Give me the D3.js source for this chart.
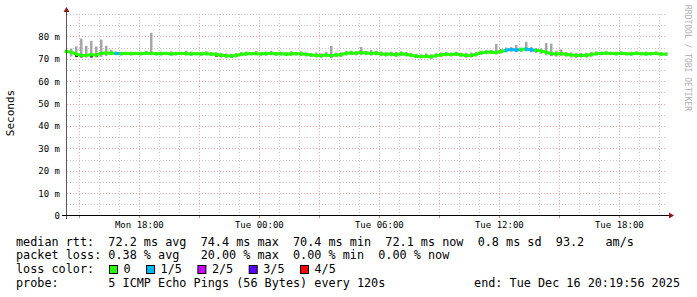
<!DOCTYPE html>
<html>
<head>
<meta charset="utf-8">
<script src="https://cdn.jsdelivr.net/npm/d3@7"></script>
<style>
  body { margin: 0; background: #fff; }
  svg { display: block; }
</style>
</head>
<body>
<div id="chart"></div>
<script>
// samples every 15 minutes, from Mon 14:19:56 to Tue 20:19:56
const startTime = new Date(2025, 11, 15, 14, 19, 56);
const endTime = new Date(2025, 11, 16, 20, 19, 56);
const stepMinutes = 15;

// median rtt, ms
const medianMs = [
  73.3, 73.0, 72.2, 71.6, 71.5, 71.8, 71.6, 72.4, 72.6, 72.5,
  72.4, 72.3, 72.4, 72.3, 72.4, 72.3, 72.5, 72.4, 72.3, 72.3,
  72.4, 72.2, 72.3, 72.4, 72.3, 72.2, 72.3, 72.2, 72.3, 72.1,
  72.0, 71.6, 71.4, 71.2, 71.5, 72.0, 72.2, 72.3, 72.3, 72.2,
  72.3, 72.4, 72.2, 72.3, 72.1, 72.2, 72.3, 72.2, 72.0, 71.7,
  71.5, 71.4, 71.6, 71.4, 71.7, 71.8, 72.4, 72.6, 72.5, 72.7,
  72.6, 72.4, 72.5, 72.2, 72.0, 72.1, 71.8, 72.2, 72.0, 71.6,
  71.2, 71.0, 71.1, 70.9, 71.4, 71.8, 72.0, 71.9, 72.1, 71.8,
  71.5, 71.6, 71.9, 72.7, 72.9, 73.0, 72.8, 73.3, 73.8, 74.2,
  73.9, 74.1, 74.4, 74.0, 73.8, 73.5, 72.9, 72.4, 72.1, 72.3,
  72.0, 71.7, 71.5, 71.6, 71.5, 71.9, 72.3, 72.4, 72.5, 72.4,
  72.3, 72.4, 72.3, 72.2, 72.4, 72.3, 72.2, 72.3, 72.4, 72.1,
  72.1
];

// smoke: highest and lowest ping per sample, ms
const smokeHi = [
  74.0, 74.5, 75.6, 79.0, 75.8, 78.0, 75.5, 78.6, 75.8, 74.0,
  73.2, 73.1, 73.0, 73.2, 73.0, 73.1, 73.4, 81.6, 73.1, 73.2,
  73.0, 73.3, 73.1, 73.0, 73.6, 73.2, 73.0, 73.1, 73.4, 72.9,
  72.8, 72.6, 72.4, 72.3, 72.5, 73.0, 73.2, 73.0, 73.4, 73.1,
  73.2, 73.5, 73.0, 73.2, 73.0, 73.4, 73.1, 73.3, 72.9, 72.6,
  72.8, 72.4, 73.0, 75.7, 72.8, 72.9, 73.4, 73.6, 73.4, 75.3,
  73.5, 74.0, 73.6, 73.3, 73.0, 73.2, 73.1, 73.3, 73.0, 72.6,
  72.2, 72.0, 72.4, 72.0, 72.5, 72.8, 73.0, 72.8, 73.1, 72.7,
  72.6, 72.8, 73.0, 73.6, 73.8, 74.0, 76.6, 74.5, 75.0, 75.2,
  76.2, 75.0, 77.6, 75.3, 74.8, 74.6, 77.0, 76.8, 73.5, 74.2,
  73.0, 72.8, 72.6, 72.5, 72.7, 73.0, 73.3, 73.2, 73.4, 73.1,
  73.2, 73.3, 73.0, 73.1, 73.3, 73.0, 73.2, 73.0, 73.3, 72.9,
  72.8
];
const smokeLo = [
  72.6, 71.0, 70.6, 70.4, 70.5, 70.5, 70.6, 70.9, 71.2, 71.6,
  71.6, 71.5, 71.6, 71.5, 71.6, 71.5, 71.7, 71.6, 71.5, 71.5,
  71.6, 71.4, 71.5, 71.6, 71.5, 71.4, 71.5, 71.4, 71.5, 71.2,
  70.9, 70.6, 70.5, 70.4, 70.6, 71.1, 71.4, 71.5, 71.5, 71.4,
  71.4, 71.5, 71.3, 71.4, 71.2, 71.3, 71.4, 71.3, 71.0, 70.8,
  70.6, 70.5, 70.7, 70.4, 70.7, 70.9, 71.4, 71.6, 71.5, 71.6,
  71.6, 71.4, 71.5, 71.2, 71.0, 71.1, 70.8, 71.2, 71.0, 70.7,
  70.4, 70.2, 70.3, 70.1, 70.5, 70.9, 71.1, 71.0, 71.2, 70.9,
  70.5, 70.6, 71.0, 71.8, 72.0, 72.1, 71.9, 72.3, 72.8, 73.1,
  72.9, 73.0, 73.3, 72.9, 72.6, 72.2, 71.6, 71.2, 71.0, 71.3,
  70.9, 70.6, 70.4, 70.5, 70.5, 70.9, 71.4, 71.6, 71.7, 71.6,
  71.5, 71.6, 71.5, 71.4, 71.6, 71.5, 71.4, 71.5, 71.6, 71.3,
  71.3
];

// dense (dark) smoke below the median: [sample, low ms]
const darkSmoke = [
  [2, 70.8], [3, 70.7], [5, 70.6], [6, 70.8], [30, 71.0], [31, 70.8],
  [32, 70.7], [33, 70.6], [50, 70.9], [51, 70.8], [53, 70.7], [70, 70.6],
  [71, 70.4], [73, 70.3], [80, 70.8], [81, 70.9], [97, 71.6],
  [102, 70.8], [103, 70.9], [104, 70.8]
];

// lost pings out of 5 per sample
const lossCount = [
  0, 0, 0, 0, 0, 0, 0, 0, 0, 0,
  1, 0, 0, 0, 0, 0, 0, 0, 0, 0,
  0, 0, 0, 0, 0, 0, 0, 0, 0, 0,
  0, 0, 0, 0, 0, 0, 0, 0, 0, 0,
  0, 0, 0, 0, 0, 0, 0, 0, 0, 0,
  0, 0, 0, 0, 0, 0, 0, 0, 0, 0,
  0, 0, 0, 0, 0, 0, 0, 0, 0, 0,
  0, 0, 0, 0, 0, 0, 0, 0, 0, 0,
  0, 0, 0, 0, 0, 0, 0, 0, 1, 1,
  1, 0, 1, 1, 0, 0, 0, 0, 0, 0,
  0, 0, 0, 0, 0, 0, 0, 0, 0, 0,
  0, 0, 0, 0, 0, 0, 0, 0, 0, 0,
  0
];

const lossLabels = ["0", "1/5", "2/5", "3/5", "4/5"];
const lossColors = ["#26ff00", "#00b8ff", "#c800ff", "#5a00ff", "#ff0000"];

const yTicks = [0, 10, 20, 30, 40, 50, 60, 70, 80];

const legendRows = [
  "median rtt:  72.2 ms avg  74.4 ms max  70.4 ms min  72.1 ms now  0.8 ms sd  93.2   am/s",
  "packet loss: 0.38 % avg   20.00 % max  0.00 % min  0.00 % now"
];
const probeText = "probe:       5 ICMP Echo Pings (56 Bytes) every 120s";
const endText = "end: Tue Dec 16 20:19:56 2025";

const width = 697;
const height = 297;
const mono = "'DejaVu Sans Mono', monospace";

const times = medianMs.map((_, i) => d3.timeMinute.offset(startTime, i * stepMinutes));

const x = d3.scaleTime().domain([startTime, endTime]).range([66, 666]);
const y = d3.scaleLinear().domain([0, 90]).range([215.5, 14]);

const svg = d3
  .select("#chart")
  .append("svg")
  .attr("width", width)
  .attr("height", height)
  .style("font-family", mono);

// grid
const minorColor = "#c8c8c8";
const majorColor = "#eeaaaa";
const grid = svg.append("g").attr("shape-rendering", "crispEdges");
const minorY = d3.range(5, 91, 5).filter((v) => v % 10 !== 0 || v === 90);
grid
  .selectAll("line.ymin")
  .data(minorY)
  .join("line")
  .attr("x1", 67)
  .attr("x2", 666)
  .attr("y1", (d) => Math.round(y(d)) + 0.5)
  .attr("y2", (d) => Math.round(y(d)) + 0.5)
  .attr("stroke", minorColor)
  .attr("stroke-dasharray", "1,2");

const hours = d3.timeHour.range(startTime, endTime);
grid
  .selectAll("line.xgrid")
  .data(hours)
  .join("line")
  .attr("x1", (d) => Math.round(x(d)) + 0.5)
  .attr("x2", (d) => Math.round(x(d)) + 0.5)
  .attr("y1", 14)
  .attr("y2", 215)
  .attr("stroke", (d) => (d.getHours() % 3 === 0 ? majorColor : minorColor))
  .attr("stroke-dasharray", "1,2");

grid
  .selectAll("line.ymaj")
  .data(yTicks.filter((d) => d > 0))
  .join("line")
  .attr("x1", 67)
  .attr("x2", 666)
  .attr("y1", (d) => Math.round(y(d)) + 0.5)
  .attr("y2", (d) => Math.round(y(d)) + 0.5)
  .attr("stroke", majorColor)
  .attr("stroke-dasharray", "1,2");

// smoke: one thin bar per sample, from lowest to highest ping
svg
  .append("g")
  .selectAll("rect")
  .data(medianMs.map((_, i) => i))
  .join("rect")
  .attr("x", (i) => x(times[i]) - 1)
  .attr("width", 2.5)
  .attr("y", (i) => y(smokeHi[i]))
  .attr("height", (i) => y(smokeLo[i]) - y(smokeHi[i]))
  .attr("fill", "#a6a6a6");

svg
  .append("g")
  .selectAll("rect")
  .data(darkSmoke)
  .join("rect")
  .attr("x", (d) => x(times[d[0]]) - 1)
  .attr("width", 3)
  .attr("y", (d) => y(medianMs[d[0]]))
  .attr("height", (d) => y(d[1]) - y(medianMs[d[0]]))
  .attr("fill", "#3a3a3a");

// median line, coloured by loss
svg
  .append("g")
  .selectAll("line")
  .data(d3.range(medianMs.length - 1))
  .join("line")
  .attr("x1", (i) => x(times[i]))
  .attr("x2", (i) => x(times[i + 1]))
  .attr("y1", (i) => y(medianMs[i]))
  .attr("y2", (i) => y(medianMs[i + 1]))
  .attr("stroke", (i) => lossColors[lossCount[i]])
  .attr("stroke-width", 3)
  .attr("stroke-linecap", "square");

// axes
svg
  .append("line")
  .attr("x1", 66.5)
  .attr("x2", 66.5)
  .attr("y1", 12)
  .attr("y2", 219)
  .attr("stroke", "#555");
svg
  .append("line")
  .attr("x1", 62)
  .attr("x2", 670)
  .attr("y1", 215.5)
  .attr("y2", 215.5)
  .attr("stroke", "#000");
svg
  .append("path")
  .attr("d", "M63.5,12 L66.5,7 L69.5,12 Z")
  .attr("fill", "#8b1a1a");
svg
  .append("path")
  .attr("d", "M669,212.5 L674,215.5 L669,218.5 Z")
  .attr("fill", "#8b1a1a");

// x ticks under the axis
svg
  .append("g")
  .selectAll("line")
  .data(hours.filter((d) => d.getHours() % 3 === 0))
  .join("line")
  .attr("x1", (d) => Math.round(x(d)) + 0.5)
  .attr("x2", (d) => Math.round(x(d)) + 0.5)
  .attr("y1", 216)
  .attr("y2", 218)
  .attr("stroke", "#d08080");

const fmt = d3.timeFormat("%a %H:%M");
svg
  .append("g")
  .selectAll("text")
  .data(hours.filter((d) => d.getHours() % 6 === 0))
  .join("text")
  .attr("x", (d) => x(d))
  .attr("y", 227.5)
  .attr("text-anchor", "middle")
  .attr("font-size", "9px")
  .attr("fill", "#000")
  .text((d) => fmt(d));

svg
  .append("g")
  .selectAll("text")
  .data(yTicks)
  .join("text")
  .attr("x", 60)
  .attr("y", (d) => y(d) + 3.5)
  .attr("text-anchor", "end")
  .attr("font-size", "9px")
  .attr("fill", "#000")
  .text((d) => (d === 0 ? "0" : d + " m"));

svg
  .append("text")
  .attr("transform", "translate(14,113) rotate(-90)")
  .attr("text-anchor", "middle")
  .attr("font-size", "11px")
  .attr("fill", "#000")
  .text("Seconds");

svg
  .append("text")
  .attr("transform", "translate(685,5) rotate(90)")
  .attr("font-size", "8px")
  .attr("fill", "#b0b0b0")
  .text("RRDTOOL / TOBI OETIKER");

// legend
const legend = svg
  .append("g")
  .attr("font-size", "11.8px")
  .attr("fill", "#000")
  .style("white-space", "pre");

legendRows.forEach((row, i) => {
  legend
    .append("text")
    .attr("x", 16)
    .attr("y", 245.5 + i * 13.7)
    .attr("xml:space", "preserve")
    .text(row);
});

legend
  .append("text")
  .attr("x", 16)
  .attr("y", 273)
  .text("loss color:");

let lx = 109;
lossLabels.forEach((lab, i) => {
  legend
    .append("rect")
    .attr("x", lx + 0.5)
    .attr("y", 265.5)
    .attr("width", 8)
    .attr("height", 8)
    .attr("fill", lossColors[i])
    .attr("stroke", "#000");
  legend
    .append("text")
    .attr("x", lx + 14.5)
    .attr("y", 273)
    .text(lab);
  lx += 14.5 + lab.length * 7.1 + 15.5;
});

legend
  .append("text")
  .attr("x", 16)
  .attr("y", 286.5)
  .attr("xml:space", "preserve")
  .text(probeText);

legend
  .append("text")
  .attr("x", 680)
  .attr("y", 286.5)
  .attr("text-anchor", "end")
  .text(endText);
</script>
</body>
</html>
